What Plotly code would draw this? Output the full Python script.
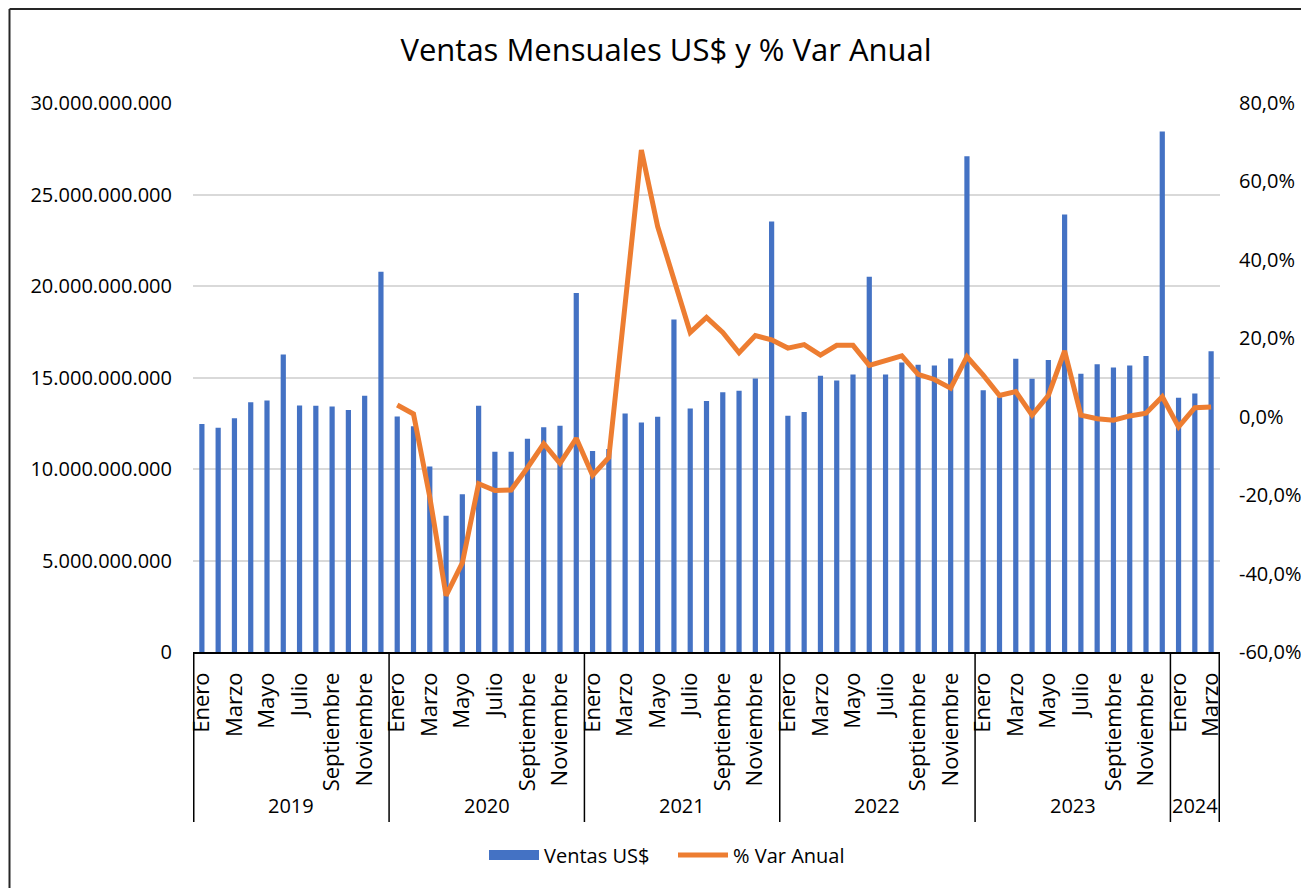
import plotly.graph_objects as go

years = [2019, 2020, 2021, 2022, 2023, 2024]
months = ["Enero", "Febrero", "Marzo", "Abril", "Mayo", "Junio", "Julio",
          "Agosto", "Septiembre", "Octubre", "Noviembre", "Diciembre"]
months_per_year = [12, 12, 12, 12, 12, 3]

ventas_2019 = [12.46, 12.26, 12.78, 13.65, 13.74, 16.26, 13.47, 13.45, 13.41, 13.23, 14.00, 20.78]
ventas_2020 = [12.87, 12.34, 10.13, 7.44, 8.62, 13.45, 10.94, 10.94, 11.65, 12.28, 12.36, 19.62]
ventas_2021 = [10.98, 11.09, 13.03, 12.54, 12.85, 18.17, 13.31, 13.72, 14.20, 14.28, 14.95, 23.53]
ventas_2022 = [12.91, 13.11, 15.09, 14.83, 15.17, 20.51, 15.17, 15.82, 15.70, 15.66, 16.04, 27.09]
ventas_2023 = [14.30, 13.92, 16.02, 14.93, 15.96, 23.91, 15.21, 15.72, 15.54, 15.66, 16.18, 28.44]
ventas_2024 = [13.90, 14.12, 16.43]

var_2019 = [None] * 12
var_2020 = [0.030, 0.007, -0.205, -0.456, -0.373, -0.171, -0.188, -0.187, -0.130, -0.069, -0.119, -0.055]
var_2021 = [-0.149, -0.104, 0.286, 0.680, 0.485, 0.351, 0.215, 0.253, 0.215, 0.163, 0.207, 0.196]
var_2022 = [0.175, 0.184, 0.157, 0.182, 0.182, 0.131, 0.142, 0.155, 0.108, 0.095, 0.073, 0.153]
var_2023 = [0.106, 0.054, 0.064, 0.004, 0.054, 0.168, 0.004, -0.005, -0.009, 0.002, 0.009, 0.051]
var_2024 = [-0.026, 0.023, 0.025]

pct_tickvals = [-0.6, -0.4, -0.2, 0.0, 0.2, 0.4, 0.6, 0.8]
pct_ticktext = ["-60,0%", "-40,0%", "-20,0%", "0,0%", "20,0%", "40,0%", "60,0%", "80,0%"]

ventas_bn = ventas_2019 + ventas_2020 + ventas_2021 + ventas_2022 + ventas_2023 + ventas_2024
ventas = [v * 1e9 for v in ventas_bn]
var_anual = var_2019 + var_2020 + var_2021 + var_2022 + var_2023 + var_2024

cats, tickvals, ticktext = [], [], []
for y, n in zip(years, months_per_year):
    for m in range(n):
        c = f"{y} {months[m]}"
        cats.append(c)
        if m % 2 == 0:
            tickvals.append(c)
            ticktext.append(months[m])

FONT = "Open Sans"
BLUE = "#4472C4"
ORANGE = "#ED7D31"

# the page body adds an 8px offset; figure is sized/positioned to compensate
OFF = 8
FW, FH = 1309 - OFF, 888 - OFF

# plot area geometry in screen pixels
L, R, T, B = 193, 1220, 103, 652
W, H = R - L, B - T
def px(xp):
    return (xp - L) / W
def py(yp):
    return (B - yp) / H

fig = go.Figure()
fig.add_trace(go.Bar(x=cats, y=ventas, name="Ventas US$", marker_color=BLUE,
                     marker_line_width=0, showlegend=False, legendgroup="v"))
fig.add_trace(go.Scatter(x=[None], y=[None], name="Ventas US$", mode="lines",
                         line=dict(color=BLUE, width=11), legendgroup="v",
                         hoverinfo="skip"))
fig.add_trace(go.Scatter(x=cats, y=var_anual, name="% Var Anual", yaxis="y2",
                         mode="lines", line=dict(color=ORANGE, width=5),
                         connectgaps=False))

shapes = []
start = 0
bounds = [-0.5]
for n in months_per_year:
    start += n
    bounds.append(start - 0.5)
for b in bounds:
    shapes.append(dict(type="line", xref="x", yref="paper", x0=b, x1=b,
                       y0=0, y1=py(822), line=dict(color="black", width=1.5)))
# outer chart border (left & top)
shapes.append(dict(type="line", xref="paper", yref="paper", x0=px(9.5), x1=px(9.5),
                   y0=py(9), y1=py(900), line=dict(color="#262626", width=2)))
shapes.append(dict(type="line", xref="paper", yref="paper", x0=px(9.5), x1=px(1320),
                   y0=py(9), y1=py(9), line=dict(color="#262626", width=2)))

annotations = []
start = 0
for y, n in zip(years, months_per_year):
    annotations.append(dict(x=start + (n - 1) / 2, xref="x", y=py(805), yref="paper",
                            text=str(y), showarrow=False,
                            font=dict(family=FONT, size=20, color="black"),
                            xanchor="center", yanchor="middle"))
    start += n

fig.update_layout(
    width=FW, height=FH,
    margin=dict(l=L - OFF, r=FW - (R - OFF), t=T - OFF, b=FH - (B - OFF), autoexpand=False),
    paper_bgcolor="white", plot_bgcolor="white",
    separators=",.",
    font=dict(family=FONT, size=20, color="black"),
    title=dict(text="Ventas Mensuales US$ y % Var Anual", x=(666 - OFF) / FW, xanchor="center",
               y=1 - (50 - OFF) / FH, yanchor="middle",
               font=dict(family=FONT, size=31, color="black")),
    bargap=0.68,
    showlegend=True,
    legend=dict(orientation="h", x=px(484), xanchor="left", y=py(855), yanchor="middle",
                font=dict(family=FONT, size=20, color="black"), itemwidth=50,
                entrywidth=124, entrywidthmode="pixels"),
    xaxis=dict(type="category", categoryorder="array", categoryarray=cats,
               tickvals=tickvals, ticktext=ticktext, tickangle=-90,
               showline=True, linecolor="black", linewidth=1.5,
               ticks="", showgrid=False, ticklabelstandoff=10, automargin=False,
               tickfont=dict(family=FONT, size=22, color="black")),
    yaxis=dict(range=[0, 30e9], dtick=5e9, tickformat=",.0f",
               showgrid=True, gridcolor="#D9D9D9", gridwidth=1.5,
               zeroline=False, showline=False, ticks="", ticklabelstandoff=20,
               automargin=False,
               tickfont=dict(family=FONT, size=20, color="black")),
    yaxis2=dict(range=[-0.6, 0.8], tickvals=pct_tickvals, ticktext=pct_ticktext,
                overlaying="y", side="right", showgrid=False, zeroline=False,
                showline=False, ticks="", ticklabelstandoff=18, automargin=False,
                tickfont=dict(family=FONT, size=20, color="black")),
    shapes=shapes,
    annotations=annotations,
)

fig.write_html("out.html")
